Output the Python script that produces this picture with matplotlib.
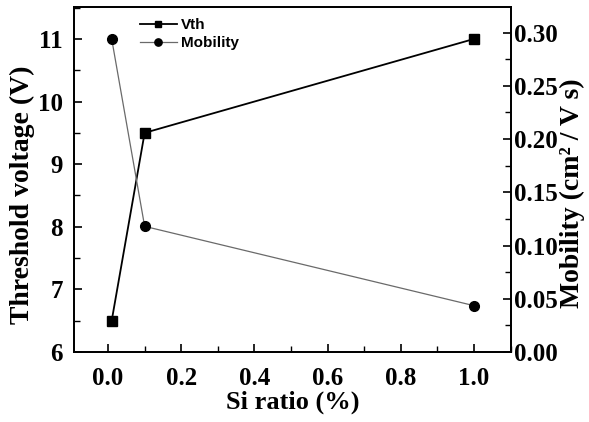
import matplotlib
matplotlib.use("Agg")
import matplotlib.pyplot as plt
from matplotlib.ticker import MultipleLocator

# -----------------------------
# Data
# -----------------------------

si_ratio = [0.01, 0.1, 1.0]
vth = [6.5, 9.5, 11.0]
mobility = [0.294, 0.118, 0.0435]

# -----------------------------
# Figure
# -----------------------------

plt.rcParams["font.family"] = "Liberation Serif"
plt.rcParams["font.weight"] = "bold"

fig = plt.figure(figsize=(5.89, 4.22), dpi=100)
ax = fig.add_axes([74 / 589, 1 - 352 / 422, 437 / 589, 345 / 422])
ax2 = ax.twinx()

l1, = ax.plot(si_ratio, vth, color="black", linewidth=1.3,
              marker="s", markersize=6.5, label="Vth")
l2, = ax2.plot(si_ratio, mobility, color="#6a6a6a", linewidth=0.9,
               marker="o", markersize=7, markerfacecolor="black",
               markeredgecolor="black", label="Mobility")

ax.set_xlim(-0.093, 1.101)
ax.set_ylim(6, 11.51)
ax2.set_ylim(0, 0.324)

ax.xaxis.set_major_locator(MultipleLocator(0.2))
ax.xaxis.set_minor_locator(MultipleLocator(0.1))
ax.yaxis.set_major_locator(MultipleLocator(1))
ax.yaxis.set_minor_locator(MultipleLocator(0.5))
ax2.yaxis.set_major_locator(MultipleLocator(0.05))
ax2.yaxis.set_minor_locator(MultipleLocator(0.025))
ax.xaxis.set_major_formatter(plt.FuncFormatter(lambda v, p: f"{v:.1f}"))
ax2.yaxis.set_major_formatter(plt.FuncFormatter(lambda v, p: f"{v:.2f}"))

for a in (ax, ax2):
    a.tick_params(which="major", direction="in", length=6, width=1.2,
                  labelsize=18, pad=2)
    a.tick_params(which="minor", direction="in", length=4, width=1.0)
    for s in a.spines.values():
        s.set_linewidth(1.3)
ax.tick_params(axis="x", pad=11)
ax.tick_params(axis="y", pad=8)
ax.tick_params(axis="y", which="both", left=True, right=False)

ax.set_xlabel("Si ratio (%)", fontsize=19, fontweight="bold", labelpad=0)
ax.set_ylabel("Threshold voltage (V)", fontsize=20, fontweight="bold",
              labelpad=2, y=0.455)
ax2.set_ylabel("Mobility (cm² / V s)", fontsize=20, fontweight="bold",
               labelpad=2, y=0.46)

leg = ax.legend([l1, l2], ["Vth", "Mobility"], loc="upper left",
                bbox_to_anchor=(0.13, 0.995), frameon=False,
                prop={"family": "Liberation Sans", "size": 11},
                handlelength=2.4, handletextpad=0.3, labelspacing=0.3,
                markerscale=0.75, borderaxespad=0.2)

fig.savefig("out.png", dpi=100)
